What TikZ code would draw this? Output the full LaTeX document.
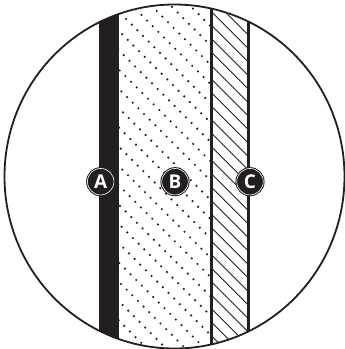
\documentclass[tikz,border=0pt]{standalone}
\usepackage{fontspec}
\setsansfont{Open Sans}
\definecolor{inkBlack}{RGB}{35,31,32}
\tikzset{
  rimline/.style={draw=inkBlack, line width=1.8pt},
  wallline/.style={draw=inkBlack, line width=2.8pt},
  hatchline/.style={draw=inkBlack, line width=0.8pt},
  layertag/.style={circle, fill=inkBlack, draw=white, line width=0.6pt, minimum size=26.5pt,
                   inner sep=0pt, text=white, font=\sffamily\bfseries\fontsize{19}{19}\selectfont,
                   preaction={draw=inkBlack, line width=2.6pt}},
}
\begin{document}
\begin{tikzpicture}[x=1pt,y=-1pt]
\useasboundingbox (0,0) rectangle (345,349);
\def\rim{(174.5,176.5) ellipse [x radius=170, y radius=172]}
\begin{scope}
  \clip \rim;
  % layer A (solid)
  \fill[inkBlack] (99,0) rectangle (119,349);
  % layer B (dots)
  \begin{scope}
    \clip (119,0) rectangle (211.5,349);
    \foreach \k in {-14,...,10}{
      \foreach \m in {-11,...,29}{
        \fill[inkBlack] ({(30+19.3*\k+235.4+11.3*\m)/2},{(235.4+11.3*\m-30-19.3*\k)/2}) circle (1.2pt);
      }
    }
  \end{scope}
  % layer C (hatch)
  \begin{scope}
    \clip (211.5,0) rectangle (248.5,349);
    \foreach \c in {-23,...,7}{
      \draw[hatchline] ({159.3+13.5*\c},0) -- ({159.3+13.5*\c+349},349);
    }
  \end{scope}
  % walls
  \draw[wallline] (211.5,0) -- (211.5,349);
  \draw[wallline] (248.5,0) -- (248.5,349);
\end{scope}
% rim
\draw[rimline] \rim;
% tags
\node[layertag] (tagA) at (100.7,181.7) {A};
\node[layertag] (tagB) at (175,181.7) {B};
\node[layertag] (tagC) at (250,181.7) {C};
\end{tikzpicture}
\end{document}
